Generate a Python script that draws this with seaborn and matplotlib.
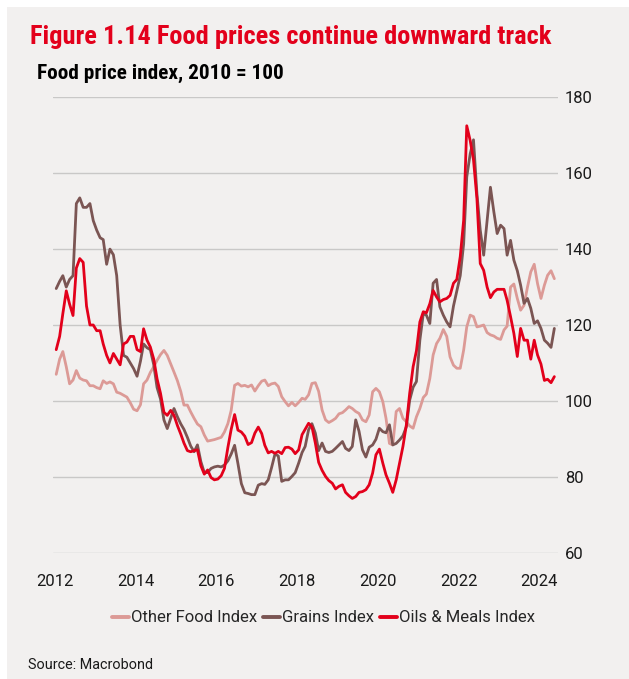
"""
Food prices chart: Other Food / Grains / Oils & Meals indices, 2010 = 100.
"""
import numpy as np
import pandas as pd
import matplotlib
matplotlib.use('Agg')
import matplotlib.pyplot as plt
from matplotlib.lines import Line2D
from matplotlib.patches import Rectangle
from matplotlib import font_manager
import seaborn as sns

# monthly values, Jan 2012 - May 2024 (one row per year)
other_food = [
    107, 111, 113, 109, 104.5, 105.5, 108, 106, 105.5, 105.3, 104, 104,
    103.5, 103.2, 105.3, 104.6, 105, 104.5, 102.3, 102, 101.5, 101, 99.5, 97.8,
    97.4, 99, 104.5, 105.5, 107.5, 109, 110.7, 112.2, 113.3, 112, 109.8, 107.6,
    105.3, 102.4, 98.9, 98.9, 97.1, 95.4, 93.9, 93.2, 91, 89.4, 89.6, 89.8,
    90.1, 90.4, 91.8, 94, 97.5, 104.1, 104.6, 103.9, 104.1, 103.7, 104.2, 102.6,
    104, 105.2, 105.5, 104, 104.5, 104.7, 103.8, 101.1, 99.8, 98.7, 99.6, 98.7,
    99.6, 100.7, 100.4, 101.6, 104.6, 104.8, 102.5, 97.6, 95, 94.3, 94.8, 95.4,
    96.6, 96.9, 97.6, 98.5, 98, 97.2, 96.7, 95, 94.5, 96.3, 102.4, 103.3,
    102.4, 99.8, 95.4, 88.8, 88.4, 97.2, 98, 95.4, 94.5, 93.4, 92.8, 95.8,
    98, 100.9, 101.8, 105.9, 112.1, 115.1, 116.5, 118.8, 117, 111.6, 109.4, 108.6,
    108.6, 113.4, 119.5, 122.6, 122.2, 119.5, 119.7, 120, 118, 117.4, 117.1, 116.5,
    116.2, 118.7, 119.7, 130, 130.8, 127, 123.9, 125.2, 130, 134, 136, 130.9,
    127, 130.5, 133.1, 134.3, 132.2,
]
grains = [
    129.6, 131.5, 133, 130, 132, 133, 152, 153.5, 151, 151, 152, 147.5,
    145, 143, 142.5, 136, 140, 138.5, 133, 120, 112, 111.5, 110, 108.5,
    106.5, 110.5, 115, 114, 113.5, 109.5, 103.5, 100.5, 95, 92.7, 95.4, 98,
    95.8, 93.9, 92.5, 90.4, 88.1, 86.6, 88.4, 84, 81.1, 81.1, 82.2, 82.6,
    82.8, 82.6, 83.1, 84.2, 86, 88.3, 83.5, 78.2, 75.8, 75.6, 75.3, 75.3,
    77.8, 78.2, 78, 79.2, 82.4, 86, 85.5, 78.8, 79.2, 79.2, 80.1, 81.1,
    83.6, 86.4, 88, 92.4, 94, 91.5, 86.9, 88.9, 86.7, 86.4, 86.7, 87.5,
    88.4, 89.3, 87.5, 86.9, 88, 95, 92, 87.1, 85.2, 87.8, 88.4, 89.9,
    92.8, 91.9, 91.6, 93.7, 88.4, 88.8, 89.7, 90.8, 93.2, 100.2, 103.6, 105.1,
    116, 123, 122.6, 120.4, 131, 132, 124.8, 122.6, 120.8, 119.5, 125, 129,
    133, 141.4, 159, 165.1, 168.8, 154.6, 145, 138.4, 147.6, 156.3, 149.8, 144.1,
    146.3, 145.4, 138.4, 142.3, 137.1, 134.3, 130.5, 125.7, 127, 124.4, 120.4, 121.1,
    119.1, 116, 115.2, 114.1, 119.1,
]
oils_meals = [
    113.5, 117, 123, 129, 125.5, 122.5, 135, 137.5, 136.5, 125, 120, 120,
    118.5, 118.5, 115, 112, 110, 112.5, 111, 109.5, 115, 115.5, 117, 117,
    113.5, 113, 119, 116, 114.2, 111, 105.8, 102, 97, 96.2, 97.5, 96.2,
    93.5, 91.2, 88.9, 86.9, 86.6, 86.9, 87.1, 82.9, 80.7, 81.8, 79.8, 79.2,
    79.4, 80.3, 82.2, 87.7, 92.5, 96.4, 92.3, 91.8, 90.7, 88.5, 89, 91.5,
    93.1, 91.4, 88.3, 86.3, 86.7, 86.2, 86.7, 86.1, 87.7, 87.8, 87.3, 86.1,
    87.1, 91.1, 92.5, 94.1, 93.2, 88.9, 83.8, 81.7, 80.1, 79, 78.3, 76.8,
    77.5, 77.9, 75.9, 75, 74.3, 74.8, 75.9, 76.1, 76.6, 77.9, 81, 85.8,
    87.3, 83.6, 80.5, 78.3, 75.9, 79.2, 83.6, 88, 93.7, 102, 109, 113.2,
    120.8, 123.5, 123.2, 125.6, 129.1, 127.4, 126.1, 126.7, 127, 127.8, 131, 132,
    138, 147.6, 172.5, 168.6, 163.5, 153.3, 136.2, 134.4, 130, 127.2, 128.7, 129.4,
    129.4, 129.4, 126.5, 122.2, 117.8, 111.7, 119.1, 116, 116, 111, 116, 112.1,
    109.7, 105.4, 105.7, 104.8, 106.4,
]

series_names  = ["Other Food Index", "Grains Index", "Oils & Meals Index"]
series_colors = ["#dc9a96", "#7b5553", "#e3001b"]
year_ticks    = [2012, 2014, 2016, 2018, 2020, 2022, 2024]
value_ticks   = [60, 80, 100, 120, 140, 160, 180]

TITLE    = "Figure 1.14 Food prices continue downward track"
SUBTITLE = "Food price index, 2010 = 100"
SOURCE   = "Source: Macrobond"
BG       = "#f2f0ef"
RED      = "#e3001b"
INK      = "#1a1a1a"

# fonts: narrow face for the headline if the box has it
installed = {f.name for f in font_manager.fontManager.ttflist}
def pick(*cands):
    for c in cands:
        if c in installed:
            return c
    return "DejaVu Sans"
head_font = pick("Liberation Sans Narrow", "Roboto Condensed", "Open Sans", "Lato")
body_font = pick("Roboto", "Open Sans", "Noto Sans")

sns.set_style("white")
plt.rcParams['font.family'] = [body_font, 'DejaVu Sans']

dates = pd.date_range("2012-01-01", periods=len(other_food), freq="MS") + pd.Timedelta(days=14)
df = pd.DataFrame({"date": dates,
                   series_names[0]: other_food,
                   series_names[1]: grains,
                   series_names[2]: oils_meals})
long_df = df.melt(id_vars="date", var_name="series", value_name="value")

W, H = 629, 679
fig = plt.figure(figsize=(W / 100, H / 100), dpi=100, facecolor="white")
fig.patches.append(Rectangle((7 / W, 0), 1, 1 - 7 / H, transform=fig.transFigure,
                             facecolor=BG, edgecolor="none", zorder=-10))

ax = fig.add_axes([53 / W, 126.3 / H, 505 / W, 455.4 / H])
ax.set_facecolor("none")

sns.lineplot(data=long_df, x="date", y="value", hue="series",
             hue_order=series_names, palette=series_colors,
             linewidth=2.0, legend=False, ax=ax)

ax.set_ylim(60, 180)
ax.set_yticks(value_ticks)
ax.yaxis.tick_right()
ax.set_xlim(pd.Timestamp("2011-12-17"), pd.Timestamp("2024-06-17"))
ax.set_xticks([pd.Timestamp(f"{y}-01-01") for y in year_ticks])
ax.set_xticklabels([str(y) for y in year_ticks])
ax.set_xlabel("")
ax.set_ylabel("")
ax.grid(axis="y", color="#c9c8c7", linewidth=1.0)
ax.grid(axis="x", visible=False)
for s in ax.spines.values():
    s.set_visible(False)
ax.tick_params(axis="x", length=0, pad=15, labelsize=12, colors=INK)
ax.tick_params(axis="y", length=0, pad=5, labelsize=12, colors=INK)

title = fig.text(30 / W, 1 - 37 / H, TITLE, color=RED, fontweight="bold",
                 fontsize=17, va="center", ha="left", family=[head_font, "DejaVu Sans"])
subtitle = fig.text(37 / W, 1 - 73 / H, SUBTITLE, color="black", fontweight="bold",
                    fontsize=11.5, va="center", ha="left", family=[head_font, "DejaVu Sans"])
source = fig.text(28 / W, 1 - 665 / H, SOURCE, color=INK, fontsize=11,
                  va="center", ha="left")

handles = [Line2D([], [], color=c, linewidth=2.8) for c in series_colors]
fig.legend(handles, series_names, loc="center", bbox_to_anchor=(323.5 / W, 1 - 618 / H),
           ncol=3, frameon=False, fontsize=12, handlelength=1.0,
           handletextpad=0.15, columnspacing=0.35)

# squeeze the texts to the widths they have in the original
fig.canvas.draw()
for txt, target in [(title, 522), (subtitle, 248), (source, 124)]:
    w = txt.get_window_extent().width
    txt.set_fontsize(txt.get_fontsize() * target / w)

fig.savefig("out.png", dpi=100, facecolor=fig.get_facecolor())
plt.close(fig)
